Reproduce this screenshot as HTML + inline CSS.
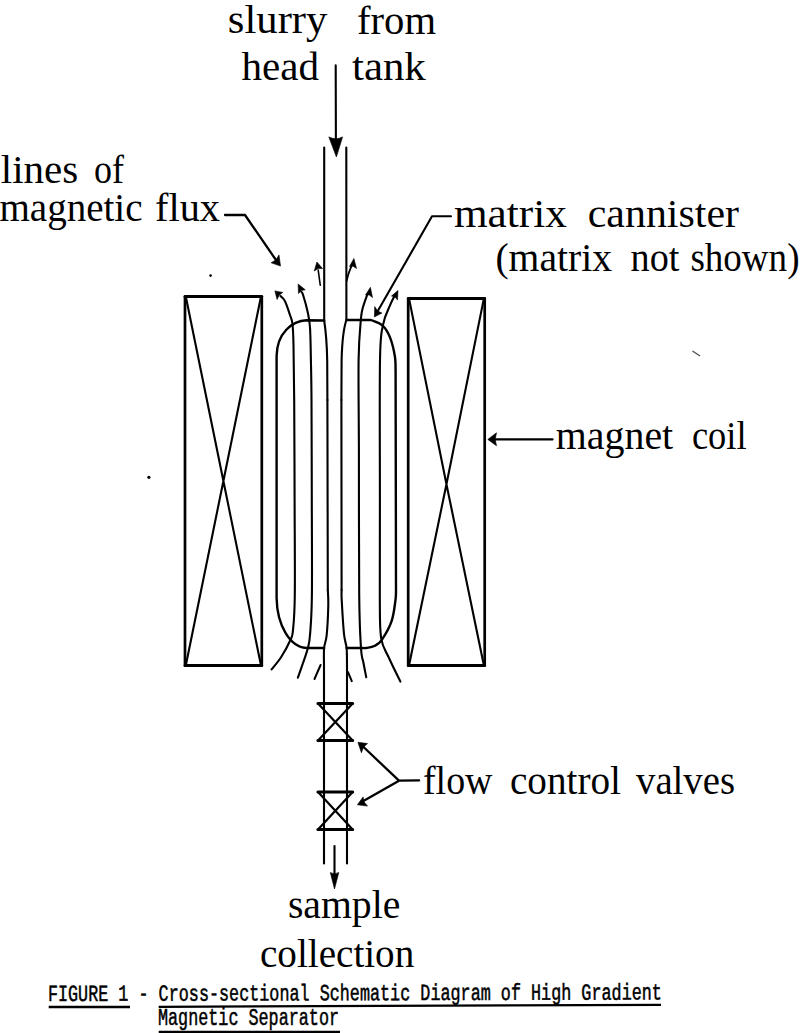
<!DOCTYPE html>
<html><head><meta charset="utf-8">
<style>
html,body{margin:0;padding:0;background:#fff;}
body{width:800px;height:1033px;overflow:hidden;position:relative;}
svg{position:absolute;left:0;top:0;}
</style></head>
<body>
<svg width="800" height="1033" viewBox="0 0 800 1033">
<rect x="0" y="0" width="800" height="1033" fill="#fff"/>
<g fill="#000" stroke="none"><circle cx="148.9" cy="477.3" r="1.6"/><circle cx="210.6" cy="275.6" r="1.3"/></g><path d="M692.5,351 L700,356" stroke="#555" stroke-width="1.5" fill="none"/>
<g fill="none" stroke="#000" stroke-width="2.1" stroke-linecap="round" stroke-linejoin="round">
<path d="M185.0,296.5 L261.8,296.5 M185.0,665.5 L261.8,665.5" stroke-width="3.0"/>
<path d="M185.0,296.5 L185.0,665.5 M261.8,296.5 L261.8,665.5" stroke-width="2.7"/>
<path d="M186.0,297.5 L223.4,481 L260.8,664.5 M260.8,297.5 L223.4,481 L186.0,664.5" stroke-width="2.1"/>
<path d="M408.2,298.4 L484.7,298.4 M408.2,665.5 L484.7,665.5" stroke-width="3.0"/>
<path d="M408.2,298.4 L408.2,665.5 M484.7,298.4 L484.7,665.5" stroke-width="2.7"/>
<path d="M409.2,299.4 L446.45,484.2 L483.7,664.5 M483.7,299.4 L446.45,484.2 L409.2,664.5" stroke-width="2.1"/>
<path d="M324.2,147.6 L324.2,320.5 Q326.8,338 327.2,360 L327.4,400"/>
<path d="M327.4,400 L327.8,590"/>
<path d="M327.80,590.00 C327.88,592.50 328.48,597.50 328.30,605.00 C328.12,612.50 327.40,627.83 326.70,635.00 C326.00,642.17 324.55,643.00 324.10,648.00 C323.65,653.00 324.02,662.17 324.00,665.00"/>
<path d="M324.0,665 L324.0,863.5"/>
<path d="M346.3,147.6 L346.4,320 Q342.3,332 341.6,360 L341.4,400"/>
<path d="M341.4,400 L341.6,590"/>
<path d="M341.60,590.00 C341.62,591.67 341.30,592.67 341.70,600.00 C342.10,607.33 343.18,626.00 344.00,634.00 C344.82,642.00 346.10,642.83 346.60,648.00 C347.10,653.17 346.93,662.17 347.00,665.00"/>
<path d="M347,665 L347,863.5"/>
<path d="M324.2,320.5 L306.75,320.3 C292,321 277,333 276.6,356 L276.6,598 C277,625 290,648 307.5,648 L324.1,648" stroke-width="2.4"/>
<path d="M346.4,320 L370.9,320  C372.85,320.93 379.42,322.70 382.60,325.60 C385.78,328.50 387.95,332.25 390.00,337.40 C392.05,342.55 393.97,350.73 394.90,356.50 C395.83,362.27 395.48,369.42 395.60,372.00 L396,590  C395.92,591.67 396.23,594.80 395.50,600.00 C394.77,605.20 393.85,614.60 391.60,621.20 C389.35,627.80 384.77,635.52 382.00,639.60 C379.23,643.68 377.62,644.30 375.00,645.70 C372.38,647.10 368.42,647.62 366.25,648.00 C364.08,648.38 362.71,648.00 362.00,648.00 L346.6,648" stroke-width="2.4"/>
<path d="M280.50,296.00 C281.25,296.88 283.42,298.08 285.00,301.25 C286.58,304.42 288.75,311.21 290.00,315.00 C291.25,318.79 291.92,319.00 292.50,324.00 C293.08,329.00 293.22,332.33 293.50,345.00 C293.78,357.67 294.02,374.17 294.20,400.00 C294.38,425.83 294.50,467.50 294.60,500.00 C294.70,532.50 295.07,573.33 294.80,595.00 C294.53,616.67 293.73,622.50 293.00,630.00 C292.27,637.50 292.37,635.50 290.40,640.00 C288.43,644.50 284.33,652.10 281.20,657.00 C278.07,661.90 273.20,667.33 271.60,669.40"/>
<path d="M301.50,292.00 C301.77,292.50 302.10,291.79 303.10,295.00 C304.10,298.21 306.35,305.83 307.50,311.25 C308.65,316.67 309.43,319.38 310.00,327.50 C310.57,335.62 310.65,347.92 310.90,360.00 C311.15,372.08 311.35,376.67 311.50,400.00 C311.65,423.33 311.73,467.50 311.80,500.00 C311.87,532.50 312.18,572.67 311.90,595.00 C311.62,617.33 310.77,625.17 310.10,634.00 C309.43,642.83 309.08,643.17 307.90,648.00 C306.72,652.83 304.67,658.05 303.00,663.00 C301.33,667.95 298.75,675.25 297.90,677.70"/>
<path d="M367.50,294.00 C366.73,296.25 364.02,303.12 362.90,307.50 C361.78,311.88 361.52,311.55 360.80,320.30 C360.08,329.05 358.92,338.38 358.60,360.00 C358.28,381.62 358.80,410.83 358.90,450.00 C359.00,489.17 358.85,562.00 359.20,595.00 C359.55,628.00 360.28,636.67 361.00,648.00 C361.72,659.33 362.62,658.13 363.50,663.00 C364.38,667.87 365.79,674.83 366.25,677.20"/>
<path d="M395.00,295.00 C394.17,296.73 391.98,300.47 390.00,305.40 C388.02,310.33 384.77,315.50 383.10,324.60 C381.43,333.70 380.53,330.77 380.00,360.00 C379.47,389.23 379.93,460.83 379.90,500.00 C379.87,539.17 379.60,572.02 379.80,595.00 C380.00,617.98 379.57,627.40 381.10,637.90 C382.63,648.40 385.78,650.72 389.00,658.00 C392.22,665.28 398.50,677.67 400.40,681.60"/>
<path d="M318.2,270 L320.25,285.25" stroke-width="1.6"/>
<path d="M346.60,281.00 C346.97,279.67 347.85,275.83 348.80,273.00 C349.75,270.17 351.72,265.50 352.30,264.00" stroke-width="1.8"/>
<path d="M320.6,665 L314.5,679" stroke-width="2.0"/>
<path d="M347.9,672 L351.8,681.2" stroke-width="2.0"/>
<path d="M317.9,703.6 L352.7,703.6 M317.9,740.5 L352.7,740.5" stroke-width="3.0"/>
<path d="M318.5,704.1 L352.2,740.0 M352.2,704.1 L318.5,740.0" stroke-width="2.2"/>
<path d="M317.9,792 L352.7,792 M317.9,829.4 L352.7,829.4" stroke-width="3.0"/>
<path d="M318.5,792.5 L352.2,828.9 M352.2,792.5 L318.5,828.9" stroke-width="2.2"/>
<path d="M335.7,65.2 L335.9,140"/>
<path d="M334.5,846 L334.5,875"/>
<path d="M225,215 L245,215 L277,261.5" stroke-width="2.3"/>
<path d="M451,216.3 L432,216.3 L377.5,311.5" stroke-width="2.1"/>
<path d="M552.5,439.4 L494,439.4" stroke-width="2.3"/>
<path d="M419.1,780.4 L399,780.7 L363,746.5 M399,780.7 L362.5,801.5" stroke-width="2.3"/>
</g>
<g fill="#000" stroke="#000" stroke-width="0.6" stroke-linejoin="round">
<path d="M336.4,157 L328.8,136.9 Q336,140.5 342.6,136.9 Z"/>
<path d="M334.5,889 L330.3,872.5 Q334.5,875 338.8,872.5 Z"/>
<path d="M280.50,266.10 L271.10,262.75 L275.87,259.92 L279.00,254.90 Z"/>
<path d="M374.40,316.90 L374.70,306.60 L377.71,310.91 L381.90,313.10 Z"/>
<path d="M487.80,439.40 L496.50,432.80 L495.19,439.31 L496.50,445.80 Z"/>
<path d="M357.90,742.25 L367.50,743.60 L363.47,747.27 L361.40,752.70 Z"/>
<path d="M357.40,804.80 L363.10,796.90 L364.12,802.00 L367.50,806.10 Z"/>
<path d="M274.90,290.90 L282.75,292.40 L279.17,295.19 L277.10,299.50 Z"/>
<path d="M298.10,284.10 L305.25,289.75 L301.31,290.50 L298.50,293.50 Z"/>
<path d="M316.90,262.00 L314.25,271.00 L318.15,268.59 L322.50,268.50 Z"/>
<path d="M353.90,258.50 L349.50,266.50 L353.13,266.15 L356.50,268.50 Z"/>
<path d="M370.40,287.30 L365.50,295.00 L369.21,294.91 L372.50,297.50 Z"/>
<path d="M398.00,290.50 L391.50,296.00 L395.02,296.88 L397.50,300.00 Z"/>
</g>

<g fill="#000" font-family="'Liberation Serif', serif" font-size="41">
  <text x="227.87" y="33.00" textLength="99.53" lengthAdjust="spacingAndGlyphs">slurry</text>
  <text x="356.97" y="34.30" textLength="79.04" lengthAdjust="spacingAndGlyphs">from</text>
  <text x="241.49" y="79.50" textLength="77.51" lengthAdjust="spacingAndGlyphs">head</text>
  <text x="351.98" y="79.50" textLength="73.82" lengthAdjust="spacingAndGlyphs">tank</text>
  <text x="0.78" y="182.60" textLength="77.47" lengthAdjust="spacingAndGlyphs">lines</text>
  <text x="93.98" y="182.60" textLength="29.94" lengthAdjust="spacingAndGlyphs">of</text>
  <text x="-0.51" y="221.00" textLength="143.03" lengthAdjust="spacingAndGlyphs">magnetic</text>
  <text x="155.06" y="221.00" textLength="64.94" lengthAdjust="spacingAndGlyphs">flux</text>
  <text x="453.99" y="226.50" textLength="112.77" lengthAdjust="spacingAndGlyphs">matrix</text>
  <text x="587.78" y="226.80" textLength="151.22" lengthAdjust="spacingAndGlyphs">cannister</text>
  <text x="495.38" y="271.00" textLength="116.62" lengthAdjust="spacingAndGlyphs">(matrix</text>
  <text x="630.58" y="271.00" textLength="48.82" lengthAdjust="spacingAndGlyphs">not</text>
  <text x="690.45" y="271.20" textLength="109.02" lengthAdjust="spacingAndGlyphs">shown)</text>
  <text x="555.80" y="449.40" textLength="117.40" lengthAdjust="spacingAndGlyphs">magnet</text>
  <text x="691.96" y="449.40" textLength="54.56" lengthAdjust="spacingAndGlyphs">coil</text>
  <text x="422.99" y="793.50" textLength="69.53" lengthAdjust="spacingAndGlyphs">flow</text>
  <text x="509.98" y="793.50" textLength="111.04" lengthAdjust="spacingAndGlyphs">control</text>
  <text x="636.00" y="793.50" textLength="99.01" lengthAdjust="spacingAndGlyphs">valves</text>
  <text x="287.93" y="918.00" textLength="112.35" lengthAdjust="spacingAndGlyphs">sample</text>
  <text x="259.99" y="967.00" textLength="154.27" lengthAdjust="spacingAndGlyphs">collection</text>
</g>
<g fill="#000" stroke="#000" stroke-width="0.5" font-family="'Liberation Mono', monospace" font-size="23">
  <text x="47.9" y="1001" textLength="614" lengthAdjust="spacingAndGlyphs" transform="rotate(-0.14 49 1001)">FIGURE 1 - Cross-sectional Schematic Diagram of High Gradient</text>
  <text x="158" y="1025.3" textLength="181" lengthAdjust="spacingAndGlyphs">Magnetic Separator</text>
</g>
<g stroke="#000" stroke-width="2.3">
  <path d="M48.7,1007 L130,1007 M158.7,1006.8 L661,1004.8 M158.7,1031.8 L340,1031.8"/>
</g>

</svg>
</body></html>
